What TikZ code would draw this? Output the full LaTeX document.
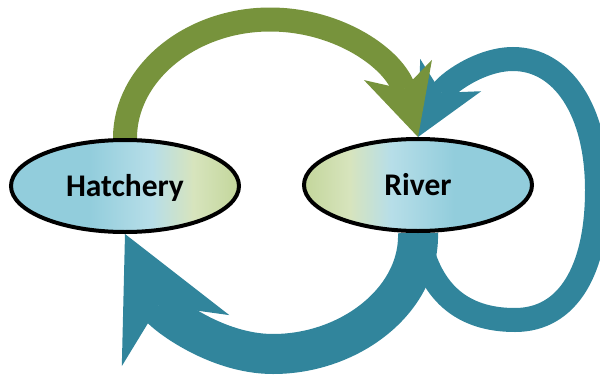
\documentclass[tikz,border=0pt]{standalone}
\usepackage{fontspec}
\setmainfont{Carlito}
\usetikzlibrary{arrows.meta,shapes.geometric}
\definecolor{hb1}{RGB}{146,205,220}
\definecolor{hb2}{RGB}{183,222,232}
\definecolor{hg1}{RGB}{215,228,189}
\definecolor{hg2}{RGB}{195,214,155}
\definecolor{arrgreen}{RGB}{119,147,60}
\definecolor{arrblue}{RGB}{49,133,156}
\pgfdeclarehorizontalshading{hatchshade}{100bp}{color(0bp)=(hb1); color(25bp)=(hb1); color(42bp)=(hb1); color(56bp)=(hb2); color(65bp)=(hg1); color(75bp)=(hg2); color(100bp)=(hg2)}
\pgfdeclarehorizontalshading{rivershade}{100bp}{color(0bp)=(hg2); color(25bp)=(hg2); color(35bp)=(hg1); color(44bp)=(hb2); color(58bp)=(hb1); color(75bp)=(hb1); color(100bp)=(hb1)}
\pgfdeclarelayer{bg}
\pgfsetlayers{bg,main}
\tikzset{
  place/.style={ellipse, draw=black, line width=4pt, minimum width=228pt, minimum height=92pt, inner sep=0pt,
    text height=20pt, text depth=0pt,
    font=\bfseries\fontsize{31.5}{34}\selectfont},
  greenarrow/.style={draw=arrgreen, line width=24pt,
    -{Stealth[length=70pt,width=71pt,inset=20pt,line width=0pt,fill=arrgreen]}},
  loopsarrow/.style={draw=arrblue, line width=24pt,
    -{Stealth[length=70pt,width=69pt,inset=20pt,line width=0pt,fill=arrblue]}},
  bigarrow/.style={draw=arrblue, line width=40pt,
    -{Stealth[length=118pt,width=119pt,inset=39pt,line width=0pt,fill=arrblue]}}
}
\begin{document}
\begin{tikzpicture}[x=1pt,y=-1pt]
\useasboundingbox (0,0) rectangle (600,375);
\node[place, shading=hatchshade] (H) at (125,186) {Hatchery};
\node[place, shading=rivershade] (R) at (418,185) {River};
\begin{pgfonlayer}{bg}
\draw[loopsarrow] (R.south) .. controls (430,300) and (470,320) .. (515,320)
  .. controls (568,320) and (597,270) .. (597,190)
  .. controls (597,110) and (562,59) .. (513,59)
  .. controls (480,59) and (446,84) .. (R.north);
\draw[bigarrow] (R.south) .. controls (420,300) and (350,354) .. (273,354)
  .. controls (215,354) and (162,312) .. (H.south);
\draw[greenarrow] (H.north) .. controls (125,74) and (190,19.5) .. (270,19.5)
  .. controls (340,19.5) and (395,60) .. (R.north);
\end{pgfonlayer}
\end{tikzpicture}
\end{document}
